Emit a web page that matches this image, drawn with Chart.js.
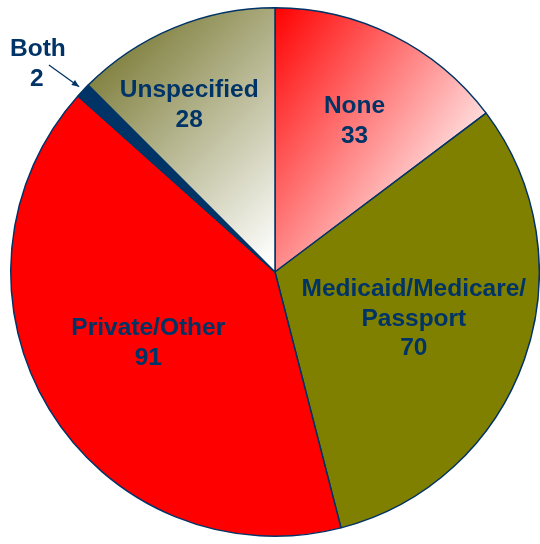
<!DOCTYPE html>
<html>
<head>
<meta charset="utf-8">
<script src="https://cdn.jsdelivr.net/npm/chart.js@4/dist/chart.umd.min.js"></script>
<style>
  html, body { margin: 0; padding: 0; background: #ffffff; }
  #wrap { width: 540px; height: 544px; }
</style>
</head>
<body>
<div id="wrap"><canvas id="pieChart" width="540" height="544"></canvas></div>
<script>
// Insurance coverage breakdown
const categories = ['None', 'Medicaid/Medicare/Passport', 'Private/Other', 'Both', 'Unspecified'];
const labelLines = [['None'], ['Medicaid/Medicare/', 'Passport'], ['Private/Other'], ['Both'], ['Unspecified']];
const counts = [33, 70, 91, 2, 28];

const NAVY = '#003366';

// label placement: fraction of radius and small angle nudge (degrees)
const labelFrac = [0.645, 0.555, 0.55, 0, 0.71];
const labelNudge = [1.3, -0.5, 2, 0, -4.7];

function sliceFill(ctx) {
    const chart = ctx.chart;
    const area = chart.chartArea;
    const solid = ['#ff0000', '#808000', '#ff0000', NAVY, '#a0a070'];
    if (!area) return solid[ctx.dataIndex];
    const cx = (area.left + area.right) / 2;
    const cy = (area.top + area.bottom) / 2;
    const r = Math.min(area.width, area.height) / 2;
    const c = chart.ctx;
    if (ctx.dataIndex === 0) {
        const g = c.createLinearGradient(cx, cy - r, cx + 0.8 * r, cy - 0.45 * r);
        g.addColorStop(0, '#ff0000');
        g.addColorStop(1, '#fff0f0');
        return g;
    }
    if (ctx.dataIndex === 4) {
        const g = c.createLinearGradient(cx - 0.7 * r, cy - 0.75 * r, cx, cy - 0.05 * r);
        g.addColorStop(0, '#80803f');
        g.addColorStop(1, '#ffffff');
        return g;
    }
    return solid[ctx.dataIndex];
}

const sliceLabels = {
    id: 'sliceLabels',
    afterDatasetsDraw(chart) {
        const c = chart.ctx;
        const arcs = chart.getDatasetMeta(0).data;
        c.save();
        c.fillStyle = NAVY;
        c.strokeStyle = NAVY;
        c.font = 'bold 24.5px "Liberation Sans", Arial, sans-serif';
        c.textAlign = 'center';
        c.textBaseline = 'middle';
        const lh = 29.5;
        arcs.forEach(function(arc, i) {
            const mid = (arc.startAngle + arc.endAngle) / 2;
            const r = arc.outerRadius;
            if (i === 3) {
                // small slice: outside label with arrow
                const tip = { x: arc.x + Math.cos(mid) * r * 1.02, y: arc.y + Math.sin(mid) * r * 1.02 };
                const tail = { x: arc.x + Math.cos(mid - 0.016) * r * 1.16, y: arc.y + Math.sin(mid - 0.016) * r * 1.16 };
                c.lineWidth = 1.3;
                c.beginPath();
                c.moveTo(tail.x, tail.y);
                c.lineTo(tip.x, tip.y);
                c.stroke();
                const a = Math.atan2(tip.y - tail.y, tip.x - tail.x);
                c.beginPath();
                c.moveTo(tip.x, tip.y);
                c.lineTo(tip.x - 8 * Math.cos(a - 0.4), tip.y - 8 * Math.sin(a - 0.4));
                c.lineTo(tip.x - 8 * Math.cos(a + 0.4), tip.y - 8 * Math.sin(a + 0.4));
                c.closePath();
                c.fill();
                c.fillText(labelLines[i][0], tail.x - 11, tail.y - 16);
                c.fillText(String(counts[i]), tail.x - 12, tail.y + 14);
                return;
            }
            const ang = mid + labelNudge[i] * Math.PI / 180;
            const px = arc.x + Math.cos(ang) * r * labelFrac[i];
            const py = arc.y + Math.sin(ang) * r * labelFrac[i];
            const lines = labelLines[i].concat([String(counts[i])]);
            const top = py - (lines.length - 1) * lh / 2;
            lines.forEach(function(t, k) {
                c.fillText(t, px, top + k * lh);
            });
        });
        c.restore();
    }
};

new Chart(document.getElementById('pieChart'), {
    type: 'pie',
    data: {
        labels: categories,
        datasets: [{
            data: counts,
            backgroundColor: sliceFill,
            borderColor: NAVY,
            borderWidth: 1.5
        }]
    },
    options: {
        responsive: false,
        animation: false,
        layout: { padding: { left: 10, right: 0, top: 7, bottom: 7 } },
        plugins: {
            legend: { display: false },
            tooltip: { enabled: false }
        }
    },
    plugins: [sliceLabels]
});
</script>
</body>
</html>
